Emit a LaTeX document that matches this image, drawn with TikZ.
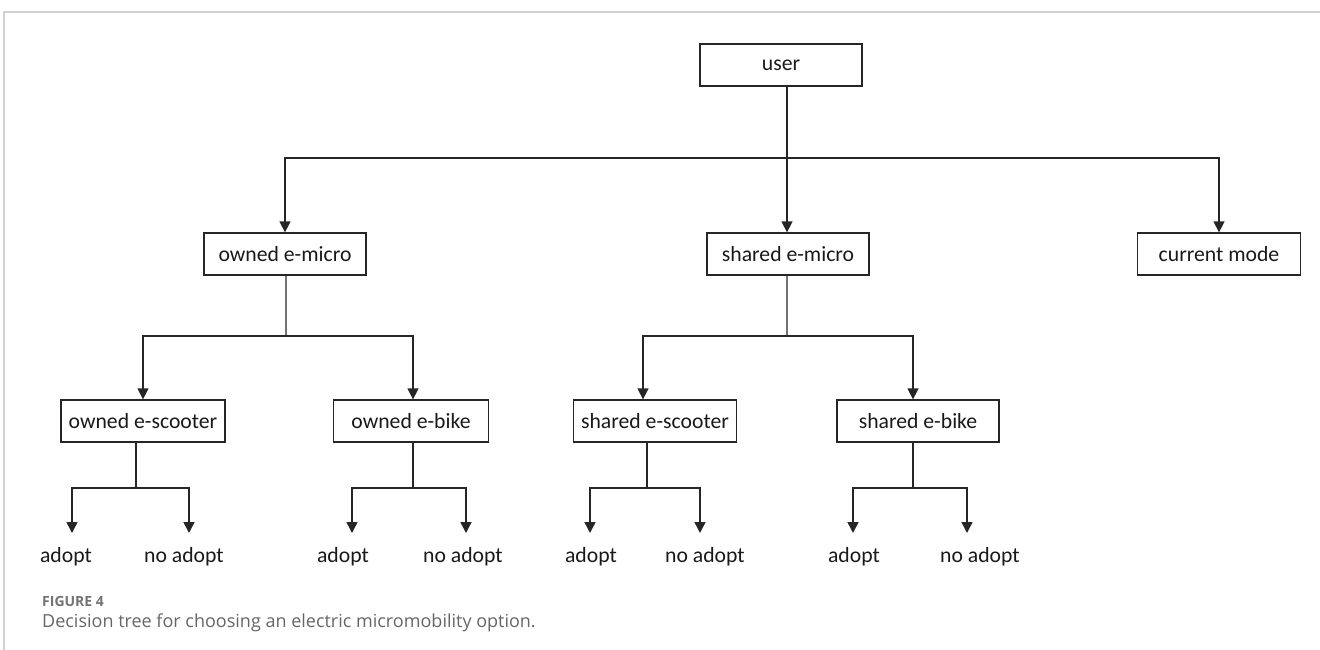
\documentclass[tikz,border=0pt]{standalone}
\usepackage{fontspec}
\setmainfont{Carlito}
\newfontfamily\capfont{Open Sans}
\usetikzlibrary{arrows.meta}
\begin{document}
\begin{tikzpicture}[x=1pt,y=-1pt,
  box/.style={draw=black!85, line width=1.3pt, minimum height=42pt, inner sep=0pt,
    font=\fontsize{21.7}{25}\selectfont, text=black!90},
  lbl/.style={font=\fontsize{21.7}{25}\selectfont, inner sep=0pt, text=black!90},
  conn/.style={line width=1.5pt, draw=black!85},
  gconn/.style={line width=1.6pt, draw=black!55},
  arr/.style={conn, -{Triangle[length=11pt,width=11pt]}},
]
\useasboundingbox (0,0) rectangle (1320,650);
\draw[black!18, line width=2pt] (4,650) -- (4,12) -- (1320,12);

% nodes
\node[box, minimum width=162pt] (user) at (781,65) {user};
\node[box, minimum width=162pt] (om) at (285,254) {owned e-micro};
\node[box, minimum width=162pt] (sm) at (788,254) {shared e-micro};
\node[box, minimum width=163pt] (cm) at (1219,254) {current mode};
\node[box, minimum width=164pt] (os) at (143,421) {owned e-scooter};
\node[box, minimum width=155pt] (ob) at (411,421) {owned e-bike};
\node[box, minimum width=163pt] (ss) at (655,421) {shared e-scooter};
\node[box, minimum width=162pt] (sb) at (918,421) {shared e-bike};

\node[lbl] (a1) at (66,557) {adopt};
\node[lbl] (n1) at (184,557) {no adopt};
\node[lbl] (a2) at (343,557) {adopt};
\node[lbl] (n2) at (463,557) {no adopt};
\node[lbl] (a3) at (591,557) {adopt};
\node[lbl] (n3) at (705,557) {no adopt};
\node[lbl] (a4) at (854,557) {adopt};
\node[lbl] (n4) at (980,557) {no adopt};

% caption
\node[anchor=base west, inner sep=0pt, font=\capfont\bfseries\fontsize{14}{16}\selectfont, text=black!55] (fig) at (42,606) {FIGURE 4};
\node[anchor=base west, inner sep=0pt, font=\capfont\fontsize{18}{22}\selectfont, text=black!60] (cap) at (42,627) {Decision tree for choosing an electric micromobility option.};

% level 0
\coordinate (j0) at (787,158);
\draw[conn] (user.south -| j0) -- (j0);
\draw[arr] (j0) -| (om.north);
\draw[arr] (j0) -- (sm.north -| j0);
\draw[arr] (j0) -| (cm.north);

% level 1
\coordinate (jo) at (286,336);
\draw[gconn] (om.south -| jo) -- (jo);
\draw[arr] (jo) -| (os.north);
\draw[arr] (jo) -| ([xshift=2pt]ob.north);
\coordinate (js) at (787,336);
\draw[gconn] (sm.south -| js) -- (js);
\draw[arr] (js) -| ([xshift=-12pt]ss.north);
\draw[arr] (js) -| ([xshift=-5pt]sb.north);

% level 2
\coordinate (k1) at (136,488);
\coordinate (t1a) at (72,533);
\coordinate (t1b) at (189,533);
\draw[conn] (os.south -| k1) -- (k1);
\draw[arr] (k1) -| (t1a);
\draw[arr] (k1) -| (t1b);

\coordinate (k2) at (413,488);
\coordinate (t2a) at (352,533);
\coordinate (t2b) at (466,533);
\draw[conn] (ob.south -| k2) -- (k2);
\draw[arr] (k2) -| (t2a);
\draw[arr] (k2) -| (t2b);

\coordinate (k3) at (647,488);
\coordinate (t3a) at (590,533);
\coordinate (t3b) at (700,533);
\draw[conn] (ss.south -| k3) -- (k3);
\draw[arr] (k3) -| (t3a);
\draw[arr] (k3) -| (t3b);

\coordinate (k4) at (913,488);
\coordinate (t4a) at (853,533);
\coordinate (t4b) at (967,533);
\draw[conn] (sb.south -| k4) -- (k4);
\draw[arr] (k4) -| (t4a);
\draw[arr] (k4) -| (t4b);
\end{tikzpicture}
\end{document}
